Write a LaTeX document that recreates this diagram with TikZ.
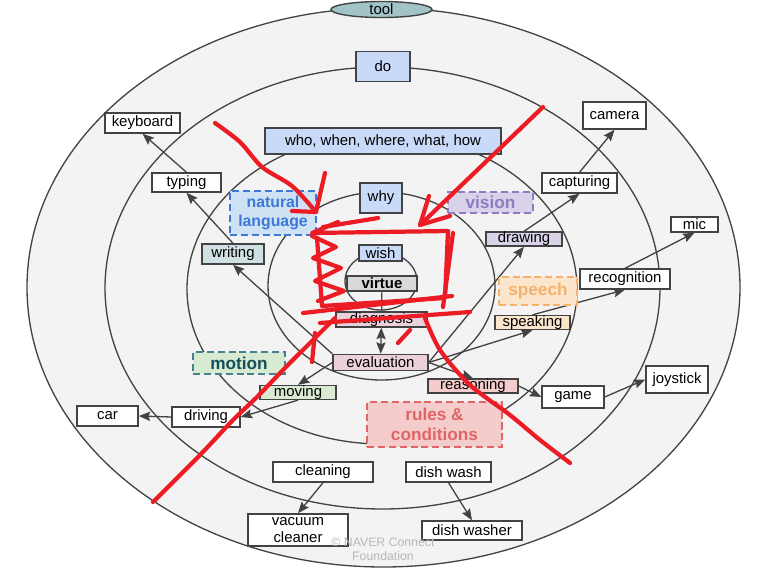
\documentclass[tikz,border=0pt]{standalone}
\usepackage{fontspec}
\setmainfont{Liberation Sans}
\usetikzlibrary{arrows.meta,shapes.geometric}
\definecolor{ink}{HTML}{434343}
\definecolor{ringfill}{HTML}{F3F3F3}
\definecolor{askblue}{HTML}{C9DAF8}
\definecolor{virtuegray}{HTML}{D9D9D9}
\definecolor{evalpink}{HTML}{EAD1DC}
\definecolor{rulered}{HTML}{F4CCCC}
\definecolor{ruleline}{HTML}{E06666}
\definecolor{motiongreen}{HTML}{D9EAD3}
\definecolor{motionline}{HTML}{45818E}
\definecolor{motiontext}{HTML}{134F5C}
\definecolor{langblue}{HTML}{CFE2F3}
\definecolor{langline}{HTML}{3C78D8}
\definecolor{writecyan}{HTML}{D0E0E3}
\definecolor{visionpurple}{HTML}{D9D2E9}
\definecolor{visionline}{HTML}{8E7CC3}
\definecolor{speechorange}{HTML}{FCE5CD}
\definecolor{speechline}{HTML}{F6B26B}
\definecolor{toolteal}{HTML}{A2C4C9}
\definecolor{markgray}{HTML}{B7B7B7}
\definecolor{pen}{HTML}{EC1C24}
\tikzset{
  item/.style={draw=ink, line width=0.8pt, fill=white, inner sep=0pt, align=center,
    font=\fontsize{8.5}{10}\selectfont},
  sz/.style 2 args={minimum width=#1*0.02cm, minimum height=#2*0.02cm},
  topic/.style={draw=#1, text=#1, line width=1.3pt, dash pattern=on 4pt off 2.2pt,
    inner sep=0pt, align=center, font=\bfseries\fontsize{9.8}{11.5}\selectfont},
  tip/.tip={Stealth[length=6.5pt,width=5.2pt,inset=1pt]},
  arr/.style={draw=ink, line width=0.75pt, -tip},
  ring/.style={draw=ink, line width=0.75pt},
  scribble/.style={draw=pen, line width=2.4pt, line cap=round, line join=round},
}

\begin{document}
\begin{tikzpicture}[x=0.02cm, y=-0.02cm]
  \useasboundingbox (0,0) rectangle (765,575);
  % rings
  \filldraw[ring, fill=ringfill] (383.5,287.5) ellipse [x radius=356.5, y radius=279.5];
  \draw[ring] (382.5,288) ellipse [x radius=277.5, y radius=221];
  \draw[ring] (382,289) ellipse [x radius=195, y radius=155];
  \draw[ring] (381.5,286) ellipse [x radius=113.5, y radius=94];
  \draw[ring] (381,281) ellipse [x radius=36, y radius=29];

  % centre column
  \node[ellipse, draw=ink, line width=0.8pt, fill=toolteal, inner sep=0pt, sz={101}{16},
    font=\fontsize{8.5}{10}\selectfont] (tool) at (381.5,9.5) {tool};
  \node[item, fill=askblue, sz={54}{30}] (do) at (383,66.5) {do};
  \node[item, fill=askblue, sz={236}{26}] (who) at (383,141) {who, when, where, what, how};
  \node[item, fill=askblue, sz={42}{30}] (why) at (381,198) {why};
  \node[item, fill=askblue, sz={43}{16}] (wish) at (380.5,253) {wish};
  \node[item, fill=virtuegray, sz={70}{15}, font=\bfseries\fontsize{8.5}{10}\selectfont] (virtue) at (382,283.5) {virtue};
  \node[item, fill=evalpink, sz={91}{15}] (diagnosis) at (381.5,319.5) {diagnosis};
  \node[item, fill=evalpink, sz={95}{16}] (evaluation) at (380.5,362.5) {evaluation};

  % left side
  \node[item, sz={75}{20}] (keyboard) at (142.5,123) {keyboard};
  \node[item, sz={69}{19}] (typing) at (186.5,182.5) {typing};
  \node[item, fill=writecyan, sz={62}{20}] (writing) at (233,254) {writing};
  \node[item, fill=motiongreen, sz={76}{13}] (moving) at (298,392.5) {moving};
  \node[item, sz={68}{20}] (driving) at (206,417) {driving};
  \node[item, sz={61}{20}] (car) at (107.5,416) {car};

  % right side
  \node[item, sz={63}{27}] (camera) at (614.5,115.5) {camera};
  \node[item, sz={75}{20}] (capturing) at (579.5,183) {capturing};
  \node[item, fill=visionpurple, sz={76}{14}] (drawing) at (524,239) {drawing};
  \node[item, sz={47}{15}] (mic) at (694.5,224.5) {mic};
  \node[item, sz={90}{20}] (recognition) at (625,279) {recognition};
  \node[item, fill=speechorange, sz={75}{13}] (speaking) at (532.5,322.5) {speaking};
  \node[item, fill=rulered, sz={90}{14}] (reasoning) at (473,386) {reasoning};
  \node[item, sz={62}{22}] (game) at (573,397) {game};
  \node[item, sz={62}{27}] (joystick) at (677,379.5) {joystick};

  % bottom
  \node[item, sz={100}{20}] (cleaning) at (323,472) {cleaning};
  \node[item, sz={100}{32}] (vacuum) at (298,530) {vacuum\\cleaner};
  \node[item, sz={85}{20}] (dishwash) at (448.5,472) {dish wash};
  \node[item, sz={100}{19}] (dishwasher) at (472,530.5) {dish washer};

  % arrows
  \draw[arr] (typing.north) -- (keyboard.south);
  \draw[arr] (writing.north) -- (typing.south);
  \draw[arr] (evaluation.north west) -- (writing.south);
  \draw[arr] (evaluation.west) -- (moving.north);
  \draw[arr] (moving.south) -- (driving.east);
  \draw[arr] (driving.west) -- (car.east);
  \draw[arr] (evaluation.east) -- (drawing.south);
  \draw[arr] (drawing.north) -- (capturing.south);
  \draw[arr] (capturing.north) -- (camera.south);
  \draw[arr] (evaluation.east) -- (speaking.south);
  \draw[arr] (speaking.north) -- (recognition.south);
  \draw[arr] (recognition.north) -- (mic.south);
  \draw[arr] (evaluation.east) -- (reasoning.north);
  \draw[arr] (reasoning.east) -- (game.west);
  \draw[arr] (game.east) -- (joystick.west);
  \draw[arr] (cleaning.south) -- (vacuum.north);
  \draw[arr] (dishwash.south) -- (dishwasher.north);
  \draw[arr, tip-tip] (diagnosis) -- (evaluation);
  \draw[draw=ink, line width=0.7pt] (virtue) -- (diagnosis);

  % dashed topic boxes
  \node[topic=langline, fill=langblue, sz={86}{44}, font=\bfseries\fontsize{9}{11.3}\selectfont] (natlang) at (273,213) {natural\\language};
  \node[topic=visionline, fill=visionpurple, sz={85}{21}] (vision) at (490.5,202.5) {vision};
  \node[topic=speechline, fill=speechorange, sz={78}{28}] (speech) at (538,291) {speech};
  \node[topic=motionline, text=motiontext, fill=motiongreen, sz={92}{22}] (motion) at (239,363) {motion};
  \node[topic=ruleline, fill=rulered, sz={135}{45}] (rules) at (434.5,424.5) {rules \&\\conditions};

  \node[text=markgray, font=\fontsize{7}{8.2}\selectfont, align=center] (mark) at (383,549) {© NAVER Connect\\Foundation};

  % red pen marks
  \draw[scribble] plot[smooth] coordinates {(215,123) (240,142) (262,167) (292,186) (316,212)};
  \draw[scribble] (325,173) -- (316,212) -- (292,211);
  \draw[scribble] (543,107) -- (420,225);
  \draw[scribble] (429,196) -- (420,225) -- (450,216);
  \draw[scribble] (338,222) -- (312,233) -- (448,231) -- (445,298) -- (322,306) -- (317,238);
  \draw[scribble] (323,227) -- (378,218);
  \draw[scribble] (312,236) -- (336,247) -- (313,258) -- (341,268) -- (315,281) -- (344,291) -- (318,301);
  \draw[scribble] (453,233) -- (443,307);
  \draw[scribble] (303,313) -- (452,296);
  \draw[scribble] (320,323) -- (470,312);
  \draw[scribble] plot[smooth] coordinates {(153,502) (200,455) (233,420) (257,397) (283,370) (310,343) (335,318)};
  \draw[scribble] (315,333) -- (312,362);
  \draw[scribble] plot[smooth] coordinates {(425,318) (440,350) (470,385) (510,415) (540,440) (570,463)};
  \draw[scribble] (398,343) -- (410,330);
\end{tikzpicture}
\end{document}
